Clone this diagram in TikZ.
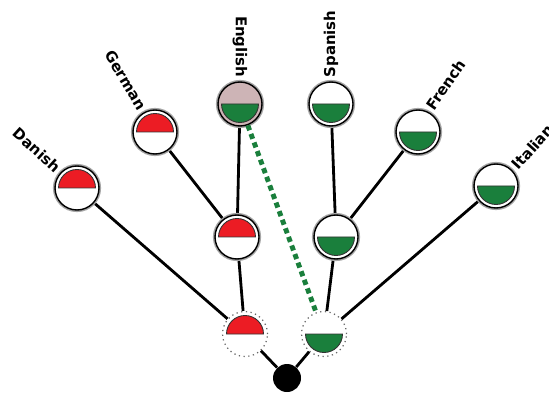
\documentclass[tikz,border=0pt]{standalone}
\usepackage{fontspec}
\setmainfont{DejaVu Sans}
\usetikzlibrary{backgrounds}
\definecolor{flagred}{HTML}{EC1C24}
\definecolor{flaggreen}{HTML}{1A7F3C}
\definecolor{mixpink}{HTML}{CDB4B6}

\begin{document}
\begin{tikzpicture}
  \tikzstyle{langnode} = [circle, draw=black, line width=0.8pt, fill=white, minimum size=0.88cm, inner sep=0pt, preaction={draw=black!35, line width=2.4pt}]
  \tikzstyle{ancnode} = [circle, draw=black!60, dotted, line width=0.7pt, fill=white, minimum size=0.9cm, inner sep=0pt]
  \tikzstyle{redtop} = [path picture={\filldraw[fill=flagred, draw=black!80, line width=0.5pt, solid] ([xshift=-0.37cm]path picture bounding box.center) arc[start angle=180, end angle=0, radius=0.37cm] -- cycle;}]
  \tikzstyle{greenbot} = [path picture={\filldraw[fill=flaggreen, draw=black!80, line width=0.5pt, solid] ([xshift=-0.37cm]path picture bounding box.center) arc[start angle=180, end angle=360, radius=0.37cm] -- cycle;}]
  \tikzstyle{langlabel} = [font=\bfseries\fontsize{8.5}{10}\selectfont, inner sep=2pt]
  \tikzstyle{branch} = [line width=1.6pt]

  \clip (0,0) rectangle (10.98,7.94);

  % root and ancestors
  \node[circle, fill=black, minimum size=0.56cm, inner sep=0pt] (root) at (5.74,0.38) {};
  \node[ancnode, redtop] (redanc) at (4.90,1.26) {};
  \node[ancnode, greenbot] (greenanc) at (6.48,1.26) {};
  \node[langnode, redtop] (redmid) at (4.74,3.20) {};
  \node[langnode, greenbot] (greenmid) at (6.72,3.20) {};

  % languages
  \node[langnode, redtop] (danish) at (1.54,4.18) {};
  \node[langnode, redtop] (german) at (3.10,5.30) {};
  \node[langnode, greenbot, fill=mixpink] (english) at (4.80,5.86) {};
  \node[langnode, greenbot] (spanish) at (6.62,5.86) {};
  \node[langnode, greenbot] (french) at (8.36,5.30) {};
  \node[langnode, greenbot] (italian) at (9.92,4.22) {};

  \node[langlabel, rotate=-42, anchor=east] (ldanish) at (danish.135) {Danish};
  \node[langlabel, rotate=-59, anchor=east] (lgerman) at (german.117) {German};
  \node[langlabel, rotate=-90, anchor=east] (lenglish) at (english.north) {English};
  \node[langlabel, rotate=90, anchor=west] (lspanish) at (spanish.north) {Spanish};
  \node[langlabel, rotate=55, anchor=west] (lfrench) at (french.65) {French};
  \node[langlabel, rotate=48, anchor=west] (litalian) at (italian.45) {Italian};

  % tree
  \begin{scope}[on background layer]
    \draw[branch] (root) -- (redanc);
    \draw[branch] (root) -- (greenanc);
    \draw[branch] (redanc) -- (danish);
    \draw[branch] (redanc) -- (redmid);
    \draw[branch] (redmid) -- (german);
    \draw[branch] (redmid) -- (english);
    \draw[branch] (greenanc) -- (greenmid);
    \draw[branch] (greenanc) -- (italian);
    \draw[branch] (greenmid) -- (spanish);
    \draw[branch] (greenmid) -- (french);
  \end{scope}

  % borrowing
  \draw[flaggreen, line width=2.8pt, dash pattern=on 3pt off 2.2pt] (english) -- (greenanc);
\end{tikzpicture}
\end{document}
